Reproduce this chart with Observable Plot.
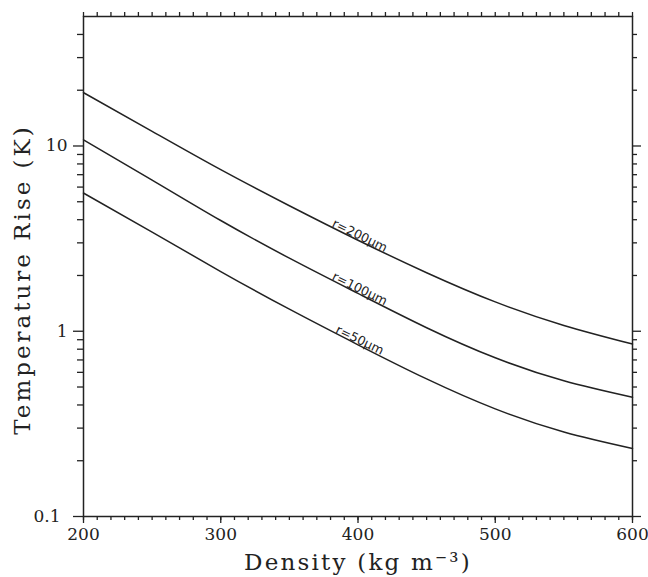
<!DOCTYPE html>
<html><head><meta charset="utf-8">
<script src="https://cdn.jsdelivr.net/npm/d3@7"></script>
<script src="https://cdn.jsdelivr.net/npm/@observablehq/plot@0.6"></script>
<style>
body{margin:0;background:#fff;}
#chart svg text{font-family:"DejaVu Serif",serif;fill:#222;}
#chart g[aria-label="x-axis label"] text{font-size:23px;letter-spacing:2.2px;}
#chart g.y-title text{font-size:23px;letter-spacing:3px;}
#chart g.curve-label text{font-family:"DejaVu Sans",sans-serif;font-size:12.5px;}
</style></head><body><div id="chart"></div>
<script>
// Density (kg m^-3)
const density = [200, 250, 300, 350, 400, 450, 500, 550, 600];
// Temperature rise (K) for each particle radius
const r200 = [19.4, 12.0, 7.45, 4.76, 3.10, 2.07, 1.44, 1.075, 0.853];
const r100 = [10.8, 6.55, 3.96, 2.48, 1.60, 1.045, 0.719, 0.540, 0.44];
const r50  = [5.57, 3.43, 2.10, 1.315, 0.845, 0.553, 0.381, 0.286, 0.233];
const seriesNames = ["r=200μm", "r=100μm", "r=50μm"];
const labelDensity = 400;

const xMajorTicks = [200, 300, 400, 500, 600];
const xMinorTicks = d3.range(200, 601, 10);
const yLabelTicks = [1, 10];
const yLowTick = [0.1];
const yMajorTicks = [0.1, 1, 10];
const yMinorTicks = [0.2,0.3,0.4,0.5,0.6,0.7,0.8,0.9,2,3,4,5,6,7,8,9,20,30,40];
const xTitle = "Density (kg m⁻³)";
const yTitle = "Temperature Rise (K)";

const seriesValues = [r200, r100, r50];
const rows = [];
seriesValues.forEach((vals, i) => vals.forEach((v, j) => rows.push({series: seriesNames[i], density: density[j], value: v})));
const labelIdx = density.indexOf(labelDensity);
const labels = seriesValues.map((vals, i) => ({series: seriesNames[i], density: density[labelIdx], value: vals[labelIdx]}));

const ink = "#222";
const blank = () => "";
const chart = Plot.plot({
  width: 648, height: 577,
  marginLeft: 83, marginRight: 16, marginTop: 16, marginBottom: 61,
  x: {domain: [200, 600]},
  y: {type: "log", domain: [0.1, 50]},
  style: {background: "#fff", color: ink, fontFamily: "DejaVu Serif"},
  marks: [
    Plot.frame({stroke: ink, strokeWidth: 1.5}),
    Plot.axisX({anchor: "bottom", ticks: xMajorTicks, tickSize: 7, tickPadding: 4, tickFormat: d => String(d), fontSize: 17,
      label: xTitle, labelAnchor: "center", labelOffset: 53, labelArrow: "none", strokeWidth: 1.3}),
    Plot.axisX({anchor: "bottom", ticks: xMinorTicks, tickSize: 4, tickFormat: blank, label: null, strokeWidth: 1.3}),
    Plot.axisX({anchor: "top", ticks: xMinorTicks, tickSize: 5, tickFormat: blank, label: null, strokeWidth: 1.3}),
    Plot.axisY({anchor: "left", ticks: yLabelTicks, tickSize: 10, tickPadding: 6, tickFormat: d => String(d), fontSize: 17,
      label: null, strokeWidth: 1.3}),
    Plot.axisY({anchor: "left", ticks: yLowTick, tickSize: 10, tickPadding: 13, tickFormat: d => String(d), fontSize: 17, label: null, strokeWidth: 1.3}),
    Plot.axisY({anchor: "left", ticks: yMinorTicks, tickSize: 6, tickFormat: blank, label: null, strokeWidth: 1.3}),
    Plot.axisY({anchor: "right", ticks: yMajorTicks, tickSize: 8, tickFormat: blank, label: null, strokeWidth: 1.3}),
    Plot.axisY({anchor: "right", ticks: yMinorTicks, tickSize: 4, tickFormat: blank, label: null, strokeWidth: 1.3}),
    Plot.text([yTitle], {text: d => d, frameAnchor: "left", rotate: -90, textAnchor: "middle", lineAnchor: "middle",
      dx: -61, dy: 13, fill: ink, className: "y-title"}),
    Plot.line(rows, {x: "density", y: "value", z: "series", stroke: ink, strokeWidth: 1.5, curve: "natural"}),
    Plot.text(labels, {x: "density", y: "value", text: "series", rotate: 26, textAnchor: "middle", lineAnchor: "bottom",
      dy: -1, fill: ink, className: "curve-label"})
  ]
});
document.getElementById("chart").appendChild(chart);
</script></body></html>
